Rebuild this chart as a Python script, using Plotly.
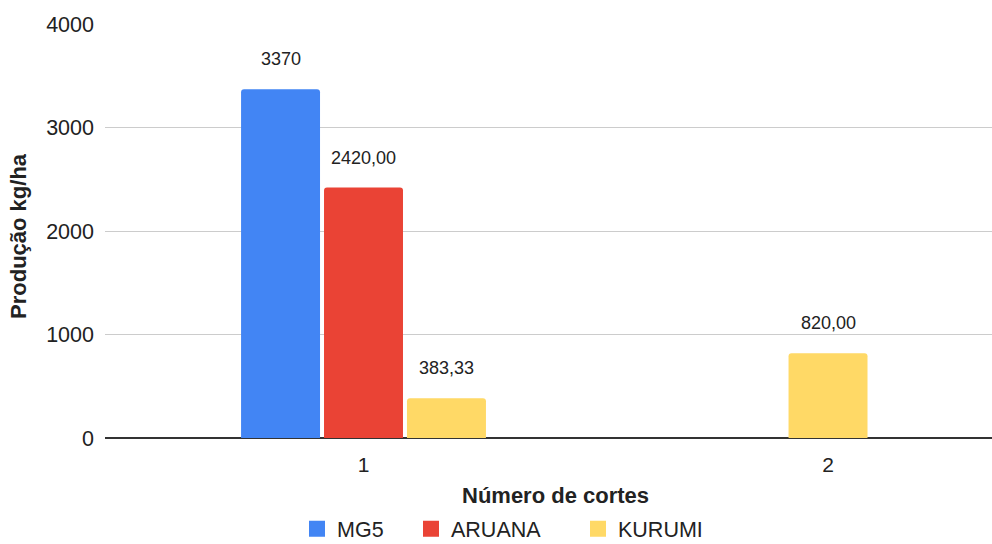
import plotly.graph_objects as go

categories = ["1", "2"]
series_names = ["MG5", "ARUANA", "KURUMI"]
mg5 = [3370, None]
aruana = [2420.00, None]
kurumi = [383.33, 820.00]
label_mg5 = ["3370", None]
label_aruana = ["2420,00", None]
label_kurumi = ["383,33", "820,00"]

colors = ["#4285F4", "#EA4335", "#FFD966"]
values = [mg5, aruana, kurumi]
labels = [label_mg5, label_aruana, label_kurumi]

FONT = "Arial, Liberation Sans, sans-serif"
W = 0.170   # bar width (category units)
G = 0.0086  # gap between bars
legend_left_px = [297, 411, 578]

fig = go.Figure()
annotations = []

# compute per-category offsets so that only present bars are grouped & centered
n_present = [sum(1 for v in values if v[i] is not None) for i in range(len(categories))]
offsets = [[None] * len(categories) for _ in values]
for i in range(len(categories)):
    n = n_present[i]
    start = -(n * W + (n - 1) * G) / 2
    k = 0
    for s, v in enumerate(values):
        if v[i] is not None:
            offsets[s][i] = start + k * (W + G)
            k += 1

legends = {}
for s, name in enumerate(series_names):
    xs, ys, offs = [], [], []
    for i in range(len(categories)):
        if values[s][i] is not None:
            xs.append(i)
            ys.append(values[s][i])
            offs.append(offsets[s][i])
            annotations.append(dict(
                x=i + offsets[s][i] + W / 2, y=values[s][i], xref="x", yref="y",
                text=labels[s][i], showarrow=False, yshift=30, yanchor="middle",
                font=dict(family=FONT, size=18, color="#222222")))
    fig.add_trace(go.Bar(x=xs, y=ys, offset=offs, width=W, name=name,
                         marker=dict(color=colors[s], line=dict(width=0)),
                         showlegend=False, hoverinfo="y"))
    lg = "legend" if s == 0 else f"legend{s + 1}"
    fig.add_trace(go.Scatter(x=[None], y=[None], mode="markers", name=name,
                             marker=dict(symbol="square", size=16, color=colors[s]),
                             showlegend=True, legend=lg))
    legends[lg] = dict(orientation="h", xref="container", yref="container",
                       x=legend_left_px[s] / 992, y=0.028,
                       xanchor="left", yanchor="middle",
                       bgcolor="rgba(0,0,0,0)",
                       font=dict(family=FONT, size=21.5, color="#222222"))

annotations.append(dict(text="<b>Produção kg/ha</b>", xref="paper", yref="paper",
                        x=0, y=0.488, xshift=-86, textangle=-90, showarrow=False,
                        xanchor="center", yanchor="middle",
                        font=dict(family=FONT, size=22, color="#222222")))
annotations.append(dict(text="<b>Número de cortes</b>", xref="paper", yref="paper",
                        x=0.508, y=0, yshift=-57, showarrow=False,
                        xanchor="center", yanchor="middle",
                        font=dict(family=FONT, size=22, color="#222222")))

fig.update_layout(
    width=992, height=544,
    margin=dict(l=105, r=0, t=24, b=106),
    paper_bgcolor="white", plot_bgcolor="white",
    barcornerradius=3,
    annotations=annotations,
    xaxis=dict(range=[-0.5565, 1.353], tickvals=list(range(len(categories))),
               ticktext=categories, showgrid=False, zeroline=False,
               showline=False, ticks="", ticklabelstandoff=12,
               tickfont=dict(family=FONT, size=21, color="#222222")),
    yaxis=dict(range=[0, 4000], tickvals=[0, 1000, 2000, 3000, 4000],
               showgrid=True, gridcolor="#cccccc", gridwidth=1,
               zeroline=True, zerolinecolor="#333333", zerolinewidth=1.5,
               showline=False, ticks="", ticklabelstandoff=10,
               tickfont=dict(family=FONT, size=21.5, color="#222222")),
    **legends,
)

fig.write_html("out.html", config={"displayModeBar": False},
               post_script="document.body.style.margin='0';")
